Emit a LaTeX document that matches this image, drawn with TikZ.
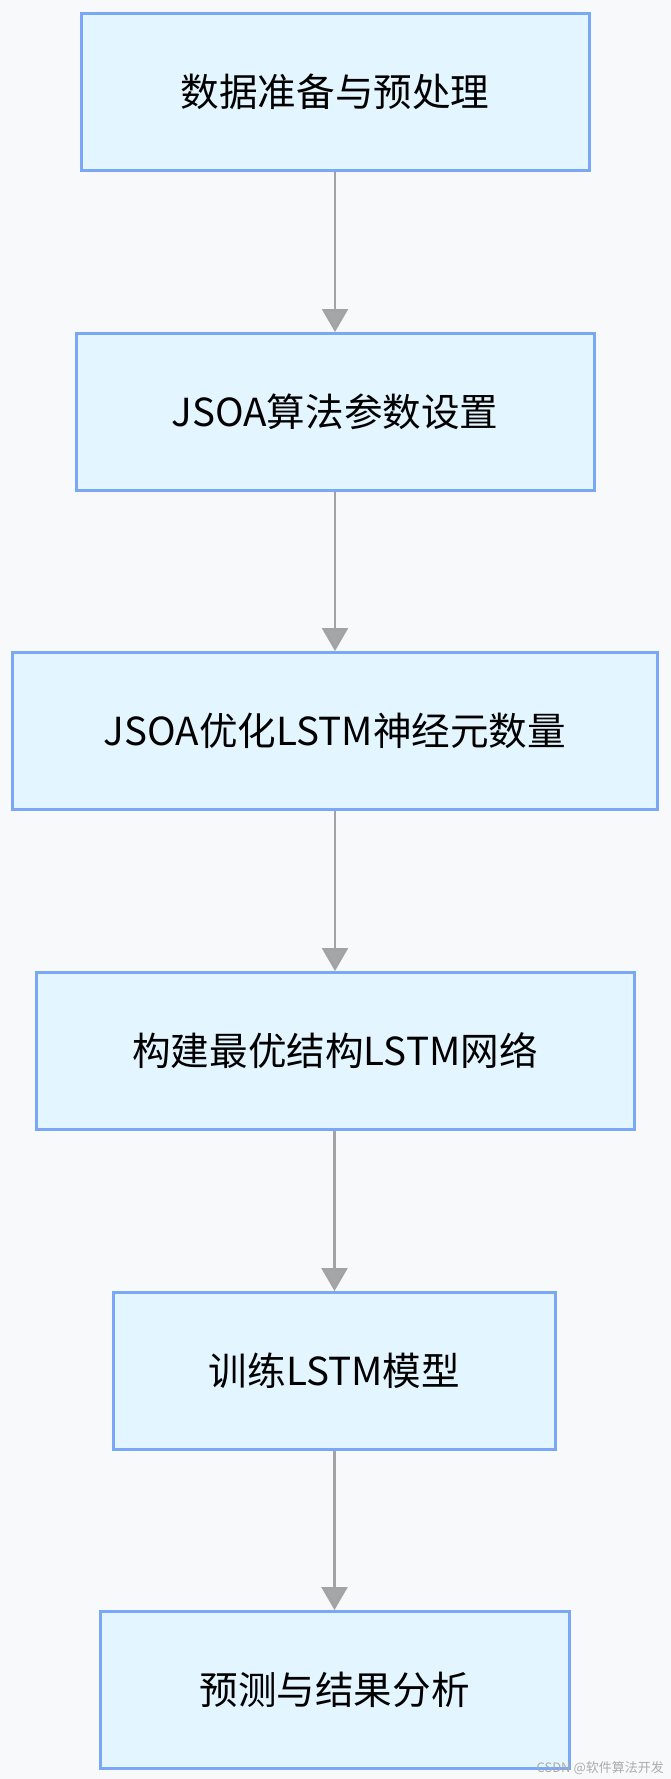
\documentclass[tikz,border=0pt]{standalone}
\usepackage{fontspec}
\usepackage{tikz}
\usetikzlibrary{arrows.meta}
\newfontfamily\cjk{Noto Sans CJK SC}
\definecolor{pagebg}{HTML}{F8F9FB}
\definecolor{boxfill}{HTML}{E3F5FE}
\definecolor{boxline}{HTML}{7BA7F7}
\definecolor{flowline}{HTML}{A3A3A3}
\definecolor{tipfill}{HTML}{A6A6A6}

\begin{document}
\begin{tikzpicture}[x=1pt, y=-1pt, font=\cjk\fontsize{38.6}{46}\selectfont,
  stage/.style={draw=boxline, fill=boxfill, line width=3pt, minimum height=157pt, inner xsep=0pt},
  flow/.style={draw=flowline, line width=2.6pt, -{Triangle[width=26pt, length=23pt, fill=tipfill]}}]
  % Background
  \fill[pagebg] (0,0) rectangle (671,1779);
  \useasboundingbox (0,0) rectangle (671,1779);

  % Steps
  \node[stage, minimum width=508pt] (prep)  at (335,92)     {数据准备与预处理};
  \node[stage, minimum width=518pt] (param) at (335,412)    {JSOA算法参数设置};
  \node[stage, minimum width=645pt] (opt)   at (335,731)    {JSOA优化LSTM神经元数量};
  \node[stage, minimum width=598pt] (build) at (335,1051)   {构建最优结构LSTM网络};
  \node[stage, minimum width=442pt] (train) at (334.5,1371) {训练LSTM模型};
  \node[stage, minimum width=469pt] (pred)  at (334.5,1690) {预测与结果分析};

  % Arrows
  \draw[flow] (prep) -- (param);
  \draw[flow] (param) -- (opt);
  \draw[flow] (opt) -- (build);
  \draw[flow] (build.south -| train) -- (train);
  \draw[flow] (train) -- (pred);

  % Watermark
  \node[anchor=south east, inner sep=0pt, text=gray!65, font=\cjk\fontsize{13}{15}\selectfont] (mark) at (664,1775) {CSDN @软件算法开发};
\end{tikzpicture}
\end{document}
